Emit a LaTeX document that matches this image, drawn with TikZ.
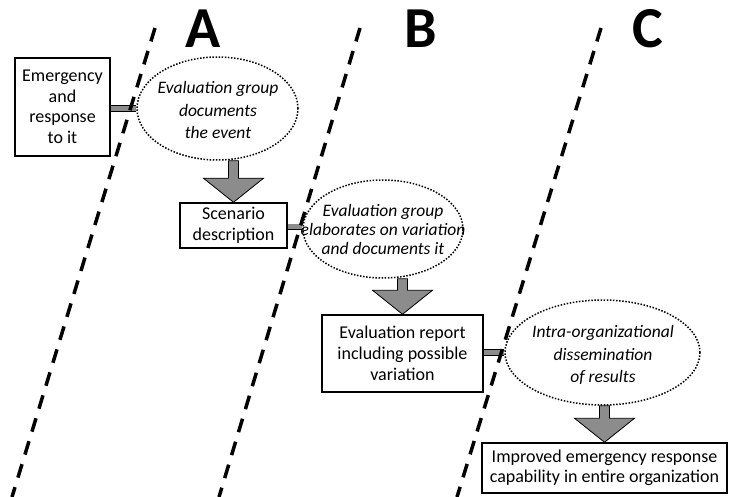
\documentclass[tikz,border=0pt]{standalone}
\usepackage{fontspec}
\setmainfont{Carlito}
\usetikzlibrary{shapes.geometric,calc}

\definecolor{barfill}{RGB}{140,140,140}

\tikzset{
  stepbox/.style={draw=black, line width=1.5pt, rectangle, inner sep=0pt, align=center,
    font=\fontsize{18}{21}\selectfont},
  actoval/.style={draw=black, ellipse, line width=1.5pt, dash pattern=on 1.5pt off 1.6pt,
    inner sep=0pt},
  acttext/.style={align=center, inner sep=0pt, font=\fontsize{17.5}{22.5}\itshape\selectfont},
  phase/.style={font=\fontsize{58}{60}\bfseries\selectfont, anchor=base, inner sep=0pt},
  border/.style={line width=3.5pt, dash pattern=on 14pt off 10pt},
  link/.style={line width=0.7pt, double=barfill, double distance=5pt},
  blockarrow/.style={draw=black, line width=0.8pt, fill=barfill, line join=miter},
}

% downward block arrow from an oval (#1) to a box (#2)
\newcommand{\downblock}[2]{%
  \path[blockarrow] let \p1=(#1.south), \p2=(#2.north) in
    (\x2-5pt,\y1) -- (\x2-5pt,\y2+24pt) -- (\x2-30pt,\y2+24pt) -- (\x2,\y2)
    -- (\x2+30pt,\y2+24pt) -- (\x2+5pt,\y2+24pt) -- (\x2+5pt,\y1) -- cycle;}

\begin{document}
\begin{tikzpicture}[x=1pt, y=-1pt]
  \useasboundingbox (0,0) rectangle (731,497);

  % phase letters
  \node[phase] (pA) at (203.5,48) {A};
  \node[phase] (pB) at (421,48) {B};
  \node[phase] (pC) at (647.5,48) {C};

  % boxes
  \node[stepbox, minimum width=95pt, minimum height=98pt,
        font=\fontsize{18}{20.5}\selectfont] (emerg) at (62.5,107)
        {Emergency\\and\\response\\to it};
  \node[stepbox, minimum width=107pt, minimum height=45pt] (scen) at (233.5,225.5)
        {Scenario\\description};
  \node[stepbox, minimum width=161pt, minimum height=77pt] (report) at (402.5,353.5)
        {Evaluation report\\including possible\\variation};
  \node[stepbox, minimum width=245pt, minimum height=50pt,
        font=\fontsize{18}{20}\selectfont] (improved) at (604.5,468)
        {Improved emergency response\\capability in entire organization};

  % ovals
  \node[actoval, minimum width=161pt, minimum height=103pt] (doc) at (217.5,108.5) {};
  \node[acttext] (doctext) at (218,110) {Evaluation group\\documents\\the event};
  \node[actoval, minimum width=160pt, minimum height=98pt] (elab) at (383,229) {};
  \node[acttext, font=\fontsize{17.5}{19}\itshape\selectfont] (elabtext) at (383,229.5)
        {Evaluation group\\elaborates on variation\\and documents it};
  \node[actoval, minimum width=195pt, minimum height=105pt] (diss) at (602.5,352.5) {};
  \node[acttext] (disstext) at (603,355) {Intra-organizational\\dissemination\\of results};

  % links from boxes to ovals
  \draw[link] (emerg.east |- doc.west) -- (doc.west);
  \draw[link] (scen.east |- 0,227) -- (elab.west |- 0,227);
  \draw[link] (report.east |- diss.west) -- (diss.west);

  % block arrows
  \downblock{doc}{scen}
  \downblock{elab}{report}
  \downblock{diss}{improved}

  % phase borders
  \coordinate (b1t) at (155,28);  \coordinate (b1b) at (12,497);
  \coordinate (b2t) at (360,28);  \coordinate (b2b) at (219,497);
  \coordinate (b3t) at (601,28);  \coordinate (b3b) at (457,497);
  \draw[border] (b1t) -- (b1b);
  \draw[border] (b2t) -- (b2b);
  \draw[border] (b3t) -- (b3b);
\end{tikzpicture}
\end{document}
